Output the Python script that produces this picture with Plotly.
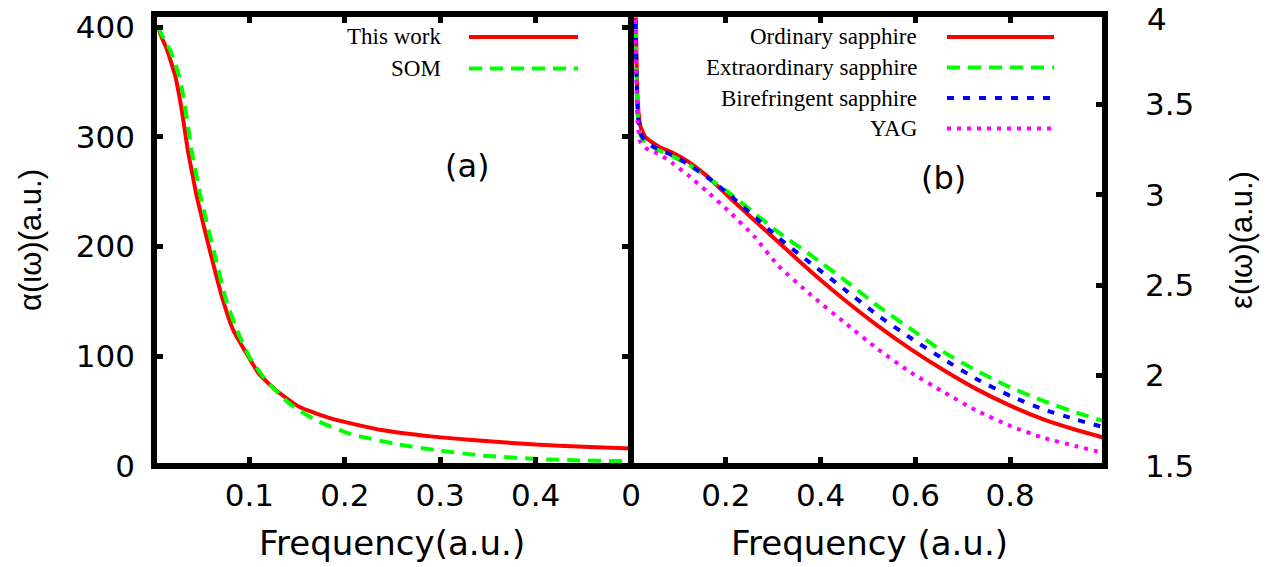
import plotly.graph_objects as go

W, H = 1282, 567

# ---------------- data: panel (a) ----------------
a_this_x = [0.004, 0.0084, 0.0139, 0.0183, 0.0225, 0.0257, 0.029, 0.0322, 0.0354, 0.0398,
            0.044, 0.0482, 0.0524, 0.061, 0.071, 0.083, 0.097, 0.110, 0.128, 0.152, 0.187,
            0.240, 0.290, 0.330, 0.400, 0.450, 0.500]
a_this_y = [400, 390, 379, 367, 355, 341, 325, 306.5, 288, 268,
            249, 233.5, 218, 188, 155, 124, 102.5, 84, 69, 54, 43,
            32.5, 27, 24, 19.5, 17.5, 16]
a_som_x = [0.004, 0.010, 0.017, 0.022, 0.0265, 0.030, 0.033, 0.0362, 0.0394, 0.0438,
           0.048, 0.0522, 0.0564, 0.065, 0.0756, 0.088, 0.100, 0.1175, 0.142, 0.170, 0.205,
           0.257, 0.300, 0.344, 0.414, 0.450, 0.500]
a_som_y = [400, 390, 379, 367, 355, 341, 325, 306.5, 288, 268,
           249, 233.5, 218, 188, 151, 122, 99.4, 78, 56.8, 41.6, 29.4,
           19.5, 14, 9.5, 5.9, 5.0, 4.4]

# ---------------- data: panel (b) ----------------
b_x = [0.006, 0.010, 0.014, 0.020, 0.030, 0.045, 0.060, 0.090, 0.120, 0.160, 0.210, 0.260,
       0.310, 0.380, 0.450, 0.520, 0.590, 0.660, 0.730, 0.800, 0.870, 0.940, 1.000]
b_ordinary = [4.5, 4.0, 3.52, 3.38, 3.32, 3.29, 3.265, 3.23, 3.185, 3.105, 2.98, 2.86,
              2.74, 2.575, 2.42, 2.277, 2.147, 2.03, 1.924, 1.834, 1.758, 1.699, 1.655]
b_extra = [4.4, 3.9, 3.45, 3.33, 3.29, 3.265, 3.245, 3.21, 3.17, 3.10, 3.005, 2.90,
           2.795, 2.665, 2.53, 2.387, 2.258, 2.13, 2.026, 1.935, 1.86, 1.795, 1.746]
b_biref = [4.4, 3.9, 3.46, 3.34, 3.30, 3.27, 3.25, 3.215, 3.17, 3.10, 2.995, 2.88,
           2.765, 2.62, 2.478, 2.335, 2.208, 2.09, 1.98, 1.888, 1.813, 1.756, 1.713]
b_yag = [4.3, 3.8, 3.40, 3.29, 3.26, 3.24, 3.225, 3.17, 3.11, 3.02, 2.90, 2.77,
         2.61, 2.445, 2.295, 2.148, 2.018, 1.908, 1.805, 1.722, 1.656, 1.609, 1.570]

a_labels = ["This work", "SOM"]
b_labels = ["Ordinary sapphire", "Extraordinary sapphire", "Birefringent sapphire", "YAG"]

a_xticks = [0.1, 0.2, 0.3, 0.4]
a_yticks = [0, 100, 200, 300, 400]
b_xticks = [0, 0.2, 0.4, 0.6, 0.8]
b_yticks = [1.5, 2, 2.5, 3, 3.5, 4]
b_yticktext = ["1.5", "2", "2.5", "3", "3.5", "4"]

# ---------------- styles ----------------
RED, GREEN, BLUE, MAG = "#ff0000", "#00ff00", "#0000ff", "#ff00ff"
LW = 4
a_styles = [(RED, "solid"), (GREEN, "13px,8px")]
b_styles = [(RED, "solid"), (GREEN, "13px,8px"), (BLUE, "7px,9px"), (MAG, "4px,6px")]

SANS = "DejaVu Sans"
SERIF = "Liberation Serif"


def px(x):
    return x / W


def py(y):
    return 1 - y / H


# panel geometry (pixels)
L0, MID, R1 = 154, 631, 1105
TOP, BOT = 14, 466

fig = go.Figure()

for (xs, ys), lab, (col, dash) in zip([(a_this_x, a_this_y), (a_som_x, a_som_y)], a_labels, a_styles):
    fig.add_trace(go.Scatter(x=xs, y=ys, mode="lines", name=lab, xaxis="x", yaxis="y",
                             line=dict(color=col, width=LW, dash=dash, shape="spline",
                                       smoothing=0.5),
                             showlegend=False))

for ys, lab, (col, dash) in zip([b_ordinary, b_extra, b_biref, b_yag], b_labels, b_styles):
    fig.add_trace(go.Scatter(x=b_x, y=ys, mode="lines", name=lab, xaxis="x2", yaxis="y2",
                             line=dict(color=col, width=LW, dash=dash, shape="spline",
                                       smoothing=0.5),
                             showlegend=False))

tickfont = dict(family=SANS, size=31, color="black")
common = dict(showgrid=False, zeroline=False, showline=False, ticks="inside",
              ticklen=9, tickwidth=5, tickcolor="black", tickfont=tickfont,
              automargin=False, ticklabeloverflow="allow")

# top label of the right axis is drawn as an annotation so it stays inside the page
b_ytext_axis = b_yticktext[:-1] + [""]

fig.update_layout(
    template="none",
    width=W, height=H, autosize=False,
    margin=dict(l=0, r=0, t=0, b=0, pad=0, autoexpand=False),
    paper_bgcolor="white", plot_bgcolor="white",
    font=dict(family=SANS, color="black"),
    xaxis=dict(domain=[px(L0), px(MID)], range=[0, 0.5], tickvals=a_xticks,
               ticktext=[str(v) for v in a_xticks], anchor="y", mirror="ticks",
               ticklabelstandoff=8, **common),
    yaxis=dict(domain=[py(BOT), py(TOP)], range=[0, 412], tickvals=a_yticks,
               anchor="x", mirror="ticks", ticklabelstandoff=18, **common),
    xaxis2=dict(domain=[px(MID), px(R1)], range=[0, 1.0], tickvals=b_xticks,
                ticktext=["0", "0.2", "0.4", "0.6", "0.8"], anchor="y2", mirror="ticks",
                ticklabelstandoff=8, **common),
    yaxis2=dict(domain=[py(BOT), py(TOP)], range=[1.5, 4.0005], tickvals=b_yticks,
                ticktext=b_ytext_axis, anchor="x2", side="right",
                ticklabelstandoff=39, **common),
)

shapes = []
# frames
for x0, x1 in [(L0, MID), (MID, R1)]:
    shapes.append(dict(type="rect", xref="paper", yref="paper", x0=px(x0), x1=px(x1),
                       y0=py(BOT), y1=py(TOP), line=dict(color="black", width=6),
                       fillcolor="rgba(0,0,0,0)", layer="above"))

annotations = []
leg_font = dict(family=SERIF, size=23, color="black")
# legend (a)
for i, (lab, (col, dash)) in enumerate(zip(a_labels, a_styles)):
    yy = 37 + i * 31.5
    annotations.append(dict(xref="paper", yref="paper", x=px(443), y=py(yy), text=lab,
                            showarrow=False, xanchor="right", yanchor="middle", font=leg_font))
    shapes.append(dict(type="line", xref="paper", yref="paper", x0=px(469), x1=px(578),
                       y0=py(yy), y1=py(yy), line=dict(color=col, width=LW, dash=dash)))
# legend (b)
for i, (lab, (col, dash)) in enumerate(zip(b_labels, b_styles)):
    yy = 37 + i * 30.5
    annotations.append(dict(xref="paper", yref="paper", x=px(919), y=py(yy), text=lab,
                            showarrow=False, xanchor="right", yanchor="middle", font=leg_font))
    shapes.append(dict(type="line", xref="paper", yref="paper", x0=px(947), x1=px(1054),
                       y0=py(yy), y1=py(yy), line=dict(color=col, width=LW, dash=dash)))

big = dict(family=SANS, size=32, color="black")
ttl = dict(family=SANS, size=34, color="black")
rot = dict(family="Liberation Sans", size=31, color="black")
annotations += [
    dict(xref="paper", yref="paper", x=px(1146), y=1.0, text=b_yticktext[-1], showarrow=False,
         xanchor="left", yanchor="top", borderpad=0, font=tickfont),
    dict(xref="paper", yref="paper", x=px(467), y=py(166), text="(a)", showarrow=False,
         xanchor="center", yanchor="middle", font=big),
    dict(xref="paper", yref="paper", x=px(943), y=py(178), text="(b)", showarrow=False,
         xanchor="center", yanchor="middle", font=big),
    dict(xref="paper", yref="paper", x=px(392), y=py(543), text="Frequency(a.u.)",
         showarrow=False, xanchor="center", yanchor="middle", font=ttl),
    dict(xref="paper", yref="paper", x=px(869), y=py(543), text="Frequency (a.u.)",
         showarrow=False, xanchor="center", yanchor="middle", font=ttl),
    dict(xref="paper", yref="paper", x=px(30), y=py(240), text="α(ιω)(a.u.)", textangle=-90,
         showarrow=False, xanchor="center", yanchor="middle", font=rot),
    dict(xref="paper", yref="paper", x=px(1241), y=py(240), text="ε(ιω)(a.u.)", textangle=-90,
         showarrow=False, xanchor="center", yanchor="middle", font=rot),
]

fig.update_layout(shapes=shapes, annotations=annotations)
fig.write_html("out.html")
